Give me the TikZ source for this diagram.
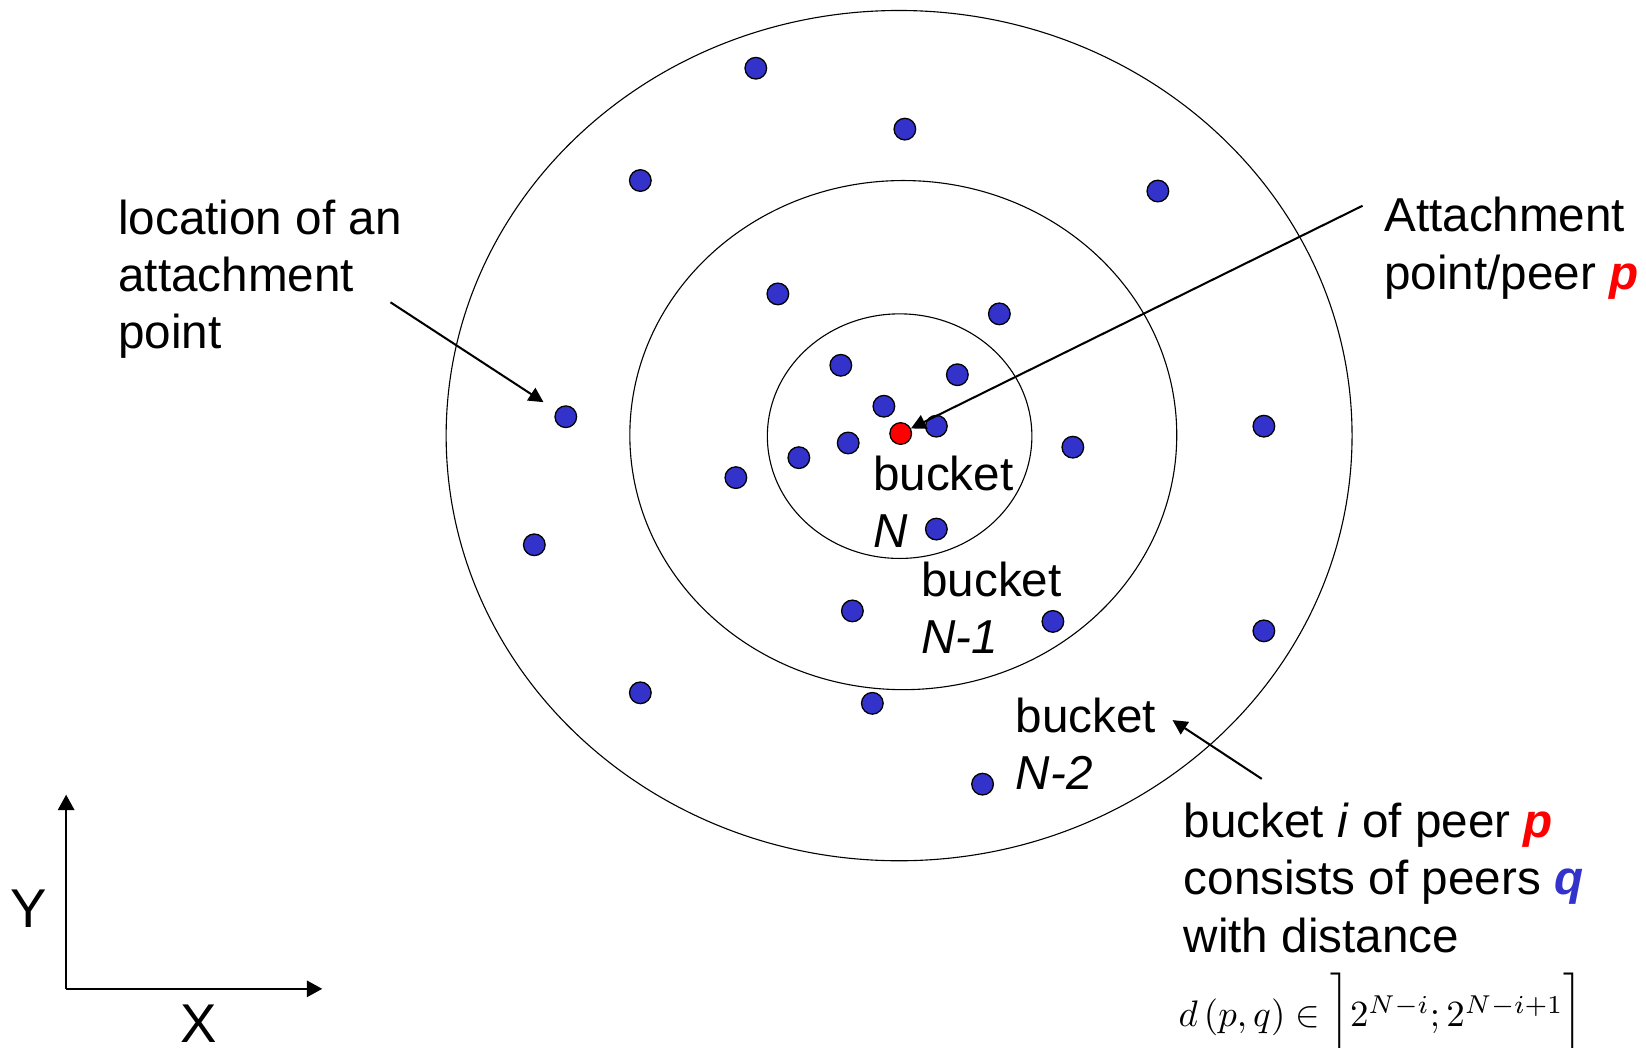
\documentclass[tikz,border=0pt]{standalone}
\usepackage{fontspec}
\setmainfont{Liberation Sans}
\usepackage{tikz}
\usetikzlibrary{arrows.meta,positioning}

\definecolor{pred}{RGB}{255,0,0}
\definecolor{qblue}{RGB}{51,51,204}

\begin{document}
\begin{tikzpicture}
   [x=0.01cm,y=-0.01cm,
    lbl/.style={anchor=base west,align=left,inner sep=0pt,
      font=\fontsize{12.9}{15.5}\selectfont},
    ring/.style={draw,line width=0.3pt},
    qdot/.style={circle,draw,line width=0.35pt,fill=qblue,
      minimum size=0.206cm,inner sep=0pt},
    pdot/.style={qdot,fill=pred},
    pointer/.style={-{Triangle[length=4pt,width=4pt]},line width=0.55pt},
    axis/.style={-{Triangle[length=4.2pt,width=4.4pt]},line width=0.7pt}]

\useasboundingbox (0,0) rectangle (1568,998);

% the three buckets
\draw [ring] (856.5,415) ellipse [x radius=431.5, y radius=405];
\draw [ring] (860.5,414.5) ellipse [x radius=260.5, y radius=242.5];
\draw [ring] (857,415.5) ellipse [x radius=126, y radius=116.5];

% peers
\foreach \x/\y [count=\i] in {720/65, 862/123, 610/172, 1103/182, 741/280,
    952/299, 801/348, 912/357, 842/387, 892/406, 539/397, 1204/406,
    808/422, 761/436, 1022/426, 701/455, 892/504, 509/519, 812/582,
    1003/592, 1204/601, 610/660, 831/670, 936/747}
  \node [qdot] (q\i) at (\x,\y) {};
\node [pdot] (p) at (858,413) {};

% labels (anchored at the baseline of their last line)
\node [lbl] (loc) at (112,332) {location of an\\attachment\\point};
\node [lbl] (attach) at (1318,275.5)
  {Attachment\\point/peer \textcolor{pred}{\textbf{\textit{p}}}};
\node [lbl] (bN) at (831,522) {bucket\\\textit{N}};
\node [lbl] (bN1) at (877,623) {bucket\\\textit{N-1}};
\node [lbl] (bN2) at (967,752) {bucket\\\textit{N-2}};
\node [lbl] (bi) at (1127,907) {bucket \textit{i} of peer
  \textcolor{pred}{\textbf{\textit{p}}}\\consists of peers
  \textcolor{qblue}{\textbf{\textit{q}}}\\with distance};
\node [anchor=base west,inner sep=0pt,font=\fontsize{10}{12}\selectfont]
  (dist) at (1122,978) {$d\,(p,q)\in\bigg]2^{N-i};2^{N-i+1}\bigg]$};

% connectors
\coordinate (locstart) at (372,288);
\coordinate (pstart) at (1298,196);
\coordinate (bistart) at (1202,742);
\coordinate (bN2end) at (1117,686);
\draw [pointer,shorten >=4.1pt] (locstart) -- (q11);
\draw [pointer] (pstart) -- (p);
\draw [pointer] (bistart) -- (bN2end);

% axes
\coordinate (origin) at (63,942);
\coordinate (ytip) at (63,757);
\coordinate (xtip) at (307,942);
\draw [axis] (origin) -- (ytip);
\draw [axis] (origin) -- (xtip);
\node [font=\fontsize{14.8}{17}\selectfont,inner sep=0pt] (ylbl) at (27,866) {Y};
\node [font=\fontsize{14.8}{17}\selectfont,inner sep=0pt] (xlbl) at (189,975) {X};
\end{tikzpicture}
\end{document}
